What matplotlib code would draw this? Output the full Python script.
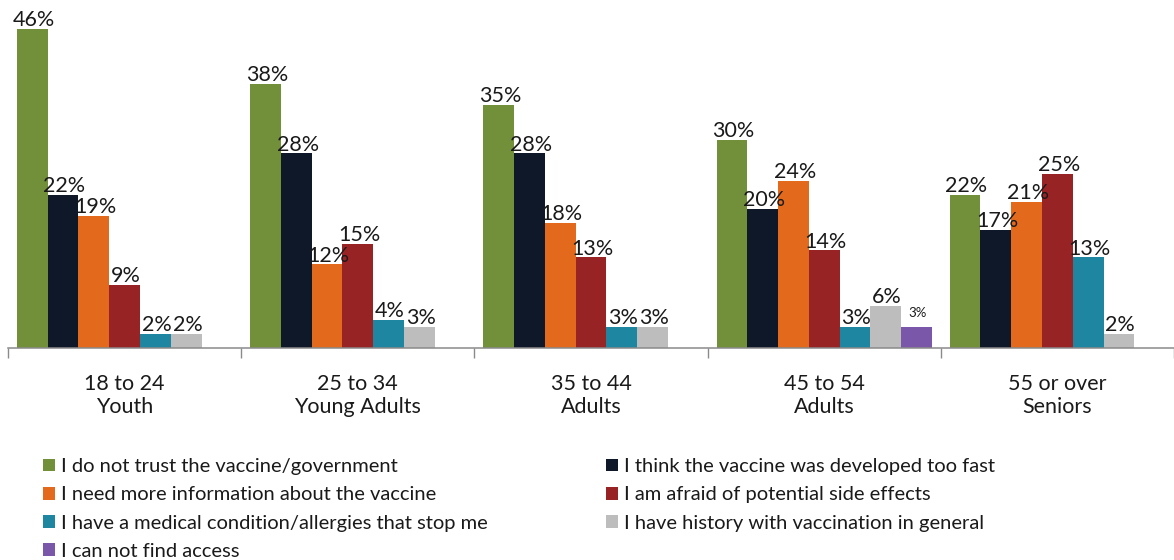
import numpy as np
import matplotlib
matplotlib.use("Agg")
import matplotlib.pyplot as plt
from matplotlib.patches import Patch

plt.rcParams['font.family'] = ['Lato', 'DejaVu Sans']

groups = ["18 to 24\nYouth", "25 to 34\nYoung Adults", "35 to 44\nAdults",
          "45 to 54\nAdults", "55 or over\nSeniors"]

series_names = [
    "I do not trust the vaccine/government",
    "I think the vaccine was developed too fast",
    "I need more information about the vaccine",
    "I am afraid of potential side effects",
    "I have a medical condition/allergies that stop me",
    "I have history with vaccination in general",
    "I can not find access",
]

no_trust = [46, 38, 35, 30, 22]
too_fast = [22, 28, 28, 20, 17]
more_info = [19, 12, 18, 24, 21]
side_effects = [9, 15, 13, 14, 25]
medical = [2, 4, 3, 3, 13]
history = [2, 3, 3, 6, 2]
no_access = [np.nan, np.nan, np.nan, 3, np.nan]

series_values = [no_trust, too_fast, more_info, side_effects, medical, history, no_access]
colors = ["#72903A", "#0E1828", "#E36A1C", "#982324", "#1F86A2", "#BDBDBD", "#7A57A8"]

W, H = 1174, 560
fig = plt.figure(figsize=(W / 100, H / 100), dpi=100)
base_px = 347.5
ax = fig.add_axes([8 / W, (H - base_px) / H, 1166 / W, base_px / H])

group_px = 235.0
x = np.arange(len(groups))
bar_w = 31 / group_px
n = len(series_values)

for i, (vals, col) in enumerate(zip(series_values, colors)):
    pos = x + (i - (n - 1) / 2) * bar_w
    vals = np.array(vals, dtype=float)
    ax.bar(pos, np.nan_to_num(vals), width=bar_w, color=col, linewidth=0)
    for xp, v in zip(pos, vals):
        if np.isnan(v):
            continue
        small = (i == n - 1)
        ax.annotate(f"{v:.0f}%", (xp, v), xytext=(1, 2 if not small else 7),
                    textcoords="offset points", ha="center", va="baseline",
                    fontsize=9.5 if small else 15.5, color="#1a1a1a")

ax.set_xlim(-0.5, -0.5 + 1166 / group_px)
ax.set_ylim(0, base_px / 6.93)

for s in ["top", "right", "left"]:
    ax.spines[s].set_visible(False)
ax.spines["bottom"].set_color("#8a8a8a")
ax.spines["bottom"].set_linewidth(1.1)
ax.set_yticks([])

ax.set_xticks(np.arange(len(groups) + 1) - 0.5)
ax.set_xticklabels([])
ax.tick_params(axis="x", which="major", length=7.5, width=1.0, color="#8a8a8a", direction="out")
ax.set_xticks(x, minor=True)
ax.set_xticklabels(groups, minor=True, fontsize=15.5, color="#1a1a1a", linespacing=1.2)
ax.tick_params(axis="x", which="minor", length=0, pad=19)

handles = [Patch(facecolor=c, edgecolor="none") for c in colors]
left_idx = [0, 2, 4, 6]
right_idx = [1, 3, 5]
common = dict(frameon=False, fontsize=14.5, handlelength=0.6, handleheight=0.6,
              handletextpad=0.3, labelspacing=0.56, borderpad=0, borderaxespad=0,
              loc="upper left")
leg1 = fig.legend([handles[i] for i in left_idx], [series_names[i] for i in left_idx],
                  bbox_to_anchor=(43 / W, (H - 458) / H), **common)
leg2 = fig.legend([handles[i] for i in right_idx], [series_names[i] for i in right_idx],
                  bbox_to_anchor=(606 / W, (H - 458) / H), **common)
for lg in (leg1, leg2):
    for t in lg.get_texts():
        t.set_color("#1a1a1a")

fig.savefig("out.png", dpi=100)
